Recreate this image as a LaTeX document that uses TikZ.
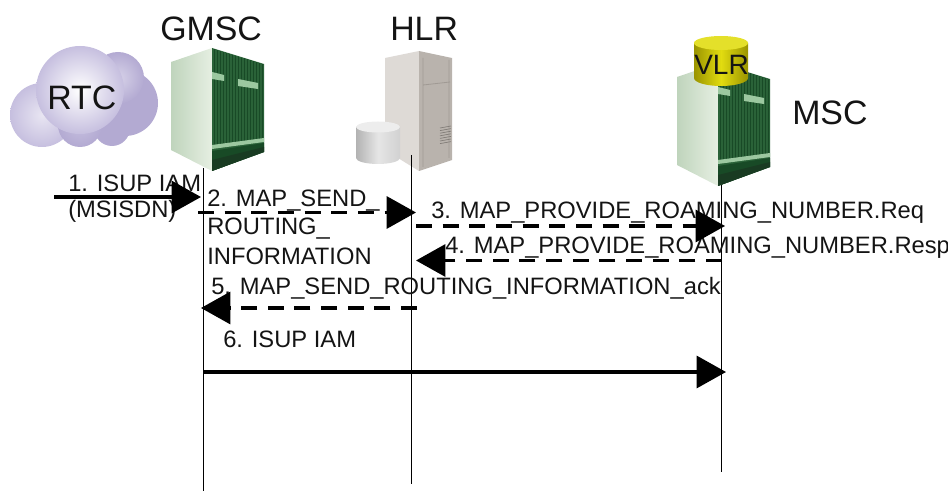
\documentclass[tikz,border=0pt]{standalone}
\usepackage{fontspec}
\setmainfont{Liberation Sans}
\usetikzlibrary{arrows.meta}
\definecolor{rackdark}{HTML}{2A6238}
\definecolor{rackdeep}{HTML}{184A26}
\definecolor{racklight}{HTML}{9CC8A0}
\definecolor{rackfaceA}{HTML}{BFD4BC}
\definecolor{rackfaceB}{HTML}{E6EFE2}
\definecolor{cloudout}{HTML}{B3AAD2}
\definecolor{cloudmid}{HTML}{C6BFDF}
\definecolor{hlrleft}{HTML}{DEDAD6}
\definecolor{hlrright}{HTML}{B9B3AD}
\definecolor{hlrline}{HTML}{A09A94}
\definecolor{vlrtop}{HTML}{E4E02A}
\definecolor{vlrside}{HTML}{E2DC10}
\definecolor{vlredge}{HTML}{9A9400}
\tikzset{
  lbl/.style={anchor=base west,inner sep=0pt,font=\fontsize{17.8pt}{19pt}\selectfont,text=black!92},
  big/.style={anchor=base west,inner sep=0pt,font=\fontsize{25.4pt}{27pt}\selectfont,text=black!92},
  life/.style={line width=0.75pt,black},
  solidmsg/.style={line width=2.3pt,-{Triangle[length=22pt,width=24pt]}},
  dashmsg/.style={line width=2.3pt,dash pattern=on 12pt off 8pt,-{Triangle[length=22pt,width=24pt]}},
  rack/.pic={
    \shade[left color=rackfaceA,right color=rackfaceB,draw=none]
      (0,14)--(41,0)--(41,123)--(0,102)--cycle;
    \fill[rackdark] (41,0)--(93,16)--(93,104)--(41,123)--cycle;
    \foreach \i in {0,...,16}{
      \draw[rackdeep,line width=0.6pt] ({43+\i*3},{1+\i*0.95})--({43+\i*3},{100-\i*0.55});
    }
    \fill[racklight] (41,24)--(53,27)--(53,33)--(41,31)--cycle;
    \fill[racklight] (67,31)--(87,35)--(87,41)--(67,38)--cycle;
    \fill[racklight] (41,97)--(93,90)--(93,94)--(41,101)--cycle;
    \fill[rackdeep] (41,103)--(93,95)--(93,104)--(41,123)--cycle;
    \fill[rackdark!60!black] (41,112)--(93,99)--(93,104)--(41,123)--cycle;
  }
}
\begin{document}
\begin{tikzpicture}[x=0.75pt,y=-0.75pt]
\useasboundingbox (0,0) rectangle (948,491);
% cloud
\fill[cloudout] (125,103) circle (33);
\fill[cloudout] (112,128) circle (18);
\shade[inner color=cloudmid!70!white,outer color=cloudout] (118,78) circle (26);
\shade[inner color=cloudmid!40!white,outer color=cloudmid] (42,115) circle (32);
\shade[inner color=cloudmid,outer color=cloudout] (80,125) circle (22);
\shade[inner color=white,outer color=cloudmid] (80,90) circle (44);
\node[big] (rtc) at (47,110) {RTC};
% equipment
\pic at (171,48) {rack};
\pic at (677,63) {rack};
% HLR
\fill[hlrleft] (385,58)--(419,51)--(419,171)--(385,150)--cycle;
\fill[hlrright] (419,51)--(452,58)--(452,160)--(419,171)--cycle;
\draw[hlrline,line width=0.6pt] (423,85)--(450,82) (423,167)--(423,58) (449,158)--(449,60);
\foreach \i in {0,...,6}{\draw[hlrline!80!black,line width=0.5pt] (440,{128+\i*2.6})--(451,{126+\i*2.6});}
\shade[left color=black!30,right color=black!18,middle color=black!10] (356,127) -- (356,158) arc[start angle=180,end angle=0,x radius=22,y radius=6] -- (400,127) -- cycle;
\fill[black!7] (378,127) ellipse (22 and 5.5);
% VLR
\shade[left color=vlredge,right color=vlredge,middle color=vlrside] (694,43) -- (694,78) arc[start angle=180,end angle=0,x radius=27,y radius=8] -- (748,43) -- cycle;
\fill[vlrtop] (721,43) ellipse (27 and 7);
% labels
\node[big] (gmsc) at (160,41) {GMSC};
\node[big] (hlr) at (390,41) {HLR};
\node[big] (msc) at (792,125) {MSC};
\node[anchor=base west,inner sep=0pt,font=\fontsize{21pt}{22pt}\selectfont,text=black!92] (vlr) at (694,75) {VLR};
% lifelines
\coordinate (g0) at (203,168); \coordinate (g1) at (203,491);
\coordinate (h0) at (411,155); \coordinate (h1) at (411,484);
\coordinate (m0) at (721.5,185); \coordinate (m1) at (721.5,472);
\draw[life] (g0)--(g1);
\draw[life] (h0)--(h1);
\draw[life] (m0)--(m1);
% message labels
\node[lbl] (t1) at (68,192) {1. ISUP IAM};
\node[lbl] (t1b) at (68,218) {(MSISDN)};
\node[lbl] (t2a) at (207,207) {2. MAP\_SEND\_};
\node[lbl] (t2b) at (207,235) {ROUTING\_};
\node[lbl] (t2c) at (207,265) {INFORMATION};
\node[lbl] (t3) at (431,219) {3. MAP\_PROVIDE\_ROAMING\_NUMBER.Req};
\node[lbl] (t4) at (445,254) {4. MAP\_PROVIDE\_ROAMING\_NUMBER.Resp};
\node[lbl] (t5) at (211,295) {5. MAP\_SEND\_ROUTING\_INFORMATION\_ack};
\node[lbl] (t6) at (223,347) {6. ISUP IAM};
% messages
\coordinate (a1) at (54,197); \coordinate (b1) at (201,197);
\coordinate (a2) at (198,212.5); \coordinate (b2) at (416,212.5);
\coordinate (a3) at (416,226); \coordinate (b3) at (725,226);
\coordinate (a4) at (722,260.5); \coordinate (b4) at (416,260.5);
\coordinate (a5) at (417,308); \coordinate (b5) at (201,308);
\coordinate (a6) at (204,372); \coordinate (b6) at (726,372);
\draw[solidmsg] (a1)--(b1);
\draw[dashmsg] (a2)--(b2);
\draw[dashmsg] (a3)--(b3);
\draw[dashmsg] (a4)--(b4);
\draw[dashmsg] (a5)--(b5);
\draw[solidmsg] (a6)--(b6);
\end{tikzpicture}
\end{document}
